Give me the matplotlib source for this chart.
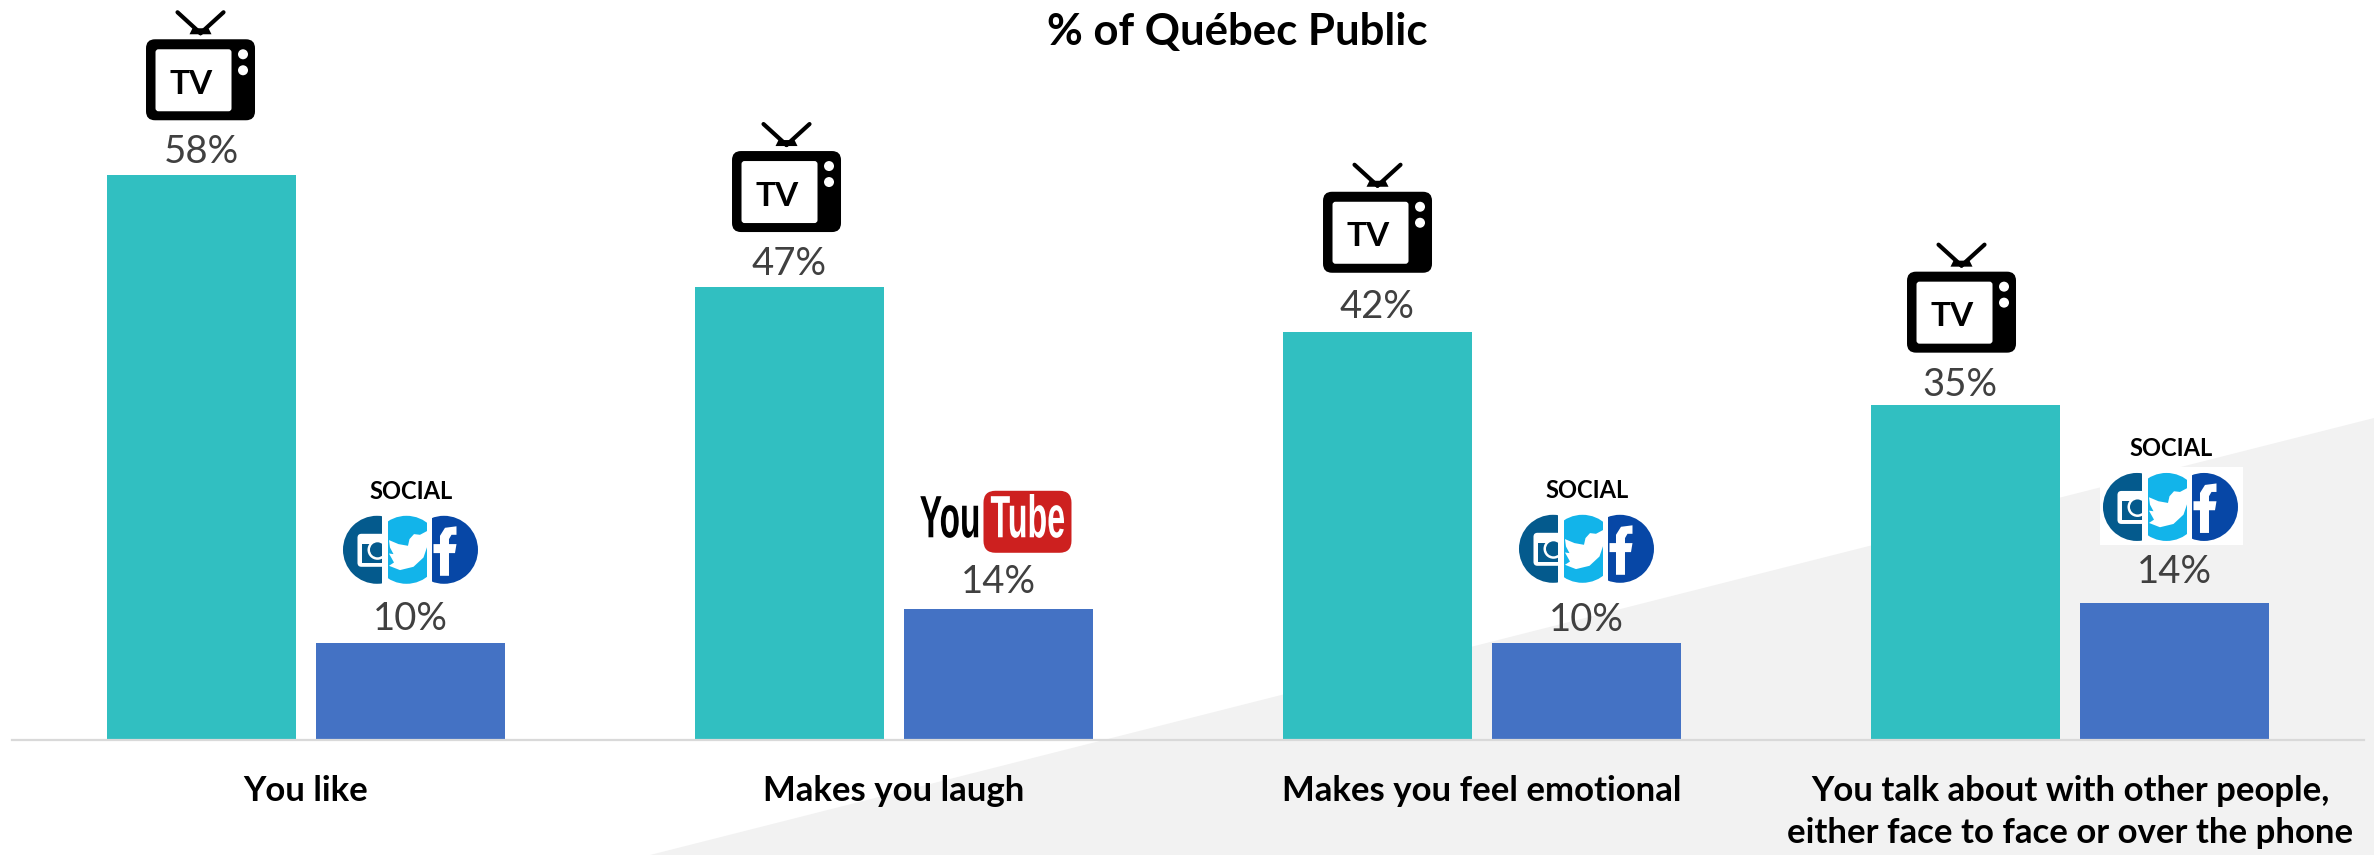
import matplotlib
matplotlib.use("Agg")
import matplotlib.pyplot as plt
import matplotlib.patheffects as pe
from matplotlib.patches import Circle, Polygon, Rectangle, FancyBboxPatch
from matplotlib.transforms import Affine2D

plt.rcParams['font.family'] = ['Lato', 'DejaVu Sans']

categories = ["You like", "Makes you laugh", "Makes you feel emotional",
              "You talk about with other people,\neither face to face or over the phone"]
tv_values = [58.1, 46.6, 42, 34.5]
other_values = [10, 13.5, 10, 14.1]
tv_labels = ["58%", "47%", "42%", "35%"]
other_labels = ["10%", "14%", "10%", "14%"]
other_icons = ["social", "youtube", "social", "social_box"]

# how far above the bar top things sit, in pixels
tv_icon_up = [136, 136, 140, 133]
tv_icon_dx = [-1, -3, 0, -4]
tv_label_up = [23, 23, 25, 20]
tv_label_dx = [0, 0, -1, -6]
other_icon_up = [93, 87, 94, 96]
other_label_up = [24, 27, 23, 31]

TEAL = "#31bfc1"
BLUE = "#4472c4"
W, H = 2374, 855
BASE = 740


class Squeeze(pe.AbstractPathEffect):
    # narrows a text around x=cx (pixels), for the tall thin logo lettering
    def __init__(self, cx, sx):
        super().__init__()
        self.cx = cx
        self.sx = sx

    def draw_path(self, renderer, gc, tpath, affine, rgbFace=None):
        squeeze = Affine2D().translate(-self.cx, 0).scale(self.sx, 1).translate(self.cx, 0)
        renderer.draw_path(gc, tpath, affine + squeeze, rgbFace)


fig = plt.figure(figsize=(W / 100, H / 100), dpi=100)

# overlay in pixel coordinates for the background wedge and the icons
bg = fig.add_axes([0, 0, 1, 1], zorder=0)
bg.set_xlim(0, W)
bg.set_ylim(H, 0)
bg.axis("off")
bg.add_patch(Polygon([(650, 855), (2374, 418), (2374, 855)], closed=True, color="#f2f2f2", lw=0))

ax = fig.add_axes([12 / W, (H - BASE) / H, 2352 / W, BASE / H], zorder=1)
ax.patch.set_alpha(0)
ax.set_xlim(-0.5, 3.5)
ax.set_ylim(0, BASE / 9.72)
offset = 0.1777
width = 0.323
xs = list(range(len(categories)))
ax.bar([x - offset for x in xs], tv_values, width, color=TEAL)
ax.bar([x + offset for x in xs], other_values, width, color=BLUE)
for s in ["top", "left", "right"]:
    ax.spines[s].set_visible(False)
ax.spines["bottom"].set_color("#d9d9d9")
ax.spines["bottom"].set_linewidth(1.6)
ax.set_yticks([])
ax.set_xticks(xs, categories, fontsize=25, fontweight="bold", color="black", linespacing=1.39)
ax.tick_params(axis="x", length=0, pad=25)

over = fig.add_axes([0, 0, 1, 1], zorder=2)
over.set_xlim(0, W)
over.set_ylim(H, 0)
over.axis("off")


def to_px(x, y):
    px, py = ax.transData.transform((x, y))
    return px, H - py


def draw_tv(cx, top):
    # top is the top of the tv body
    over.add_patch(FancyBboxPatch((cx - 54.5 + 6, top + 6), 97, 69, boxstyle="round,pad=6,rounding_size=9",
                                  fc="black", ec="none"))
    over.add_patch(FancyBboxPatch((cx - 45 + 3, top + 10 + 3), 70, 56, boxstyle="round,pad=3,rounding_size=3",
                                  fc="white", ec="none"))
    over.add_patch(Circle((cx + 42.5, top + 15), 5, fc="white", ec="none"))
    over.add_patch(Circle((cx + 42.5, top + 31), 5, fc="white", ec="none"))
    over.plot([cx, cx - 23], [top - 6, top - 27], color="black", lw=3, solid_capstyle="round")
    over.plot([cx, cx + 23], [top - 6, top - 27], color="black", lw=3, solid_capstyle="round")
    over.add_patch(Polygon([(cx - 11, top - 5), (cx + 11, top - 5), (cx + 8, top - 11), (cx - 8, top - 11)],
                           closed=True, fc="black", ec="none"))
    over.text(cx - 9, top + 45, "TV", fontsize=24, fontweight="bold", color="black", ha="center", va="center")


def draw_social(cx, cy):
    pieces = [(-33.5, -72, -28, "#045a8d"), (-4, -22, 17, "#12b4ea"), (33.5, 22, 72, "#0747a6")]
    for dx, x0, x1, col in pieces:
        c = Circle((cx + dx, cy), 34, fc=col, ec="none")
        over.add_patch(c)
        c.set_clip_path(Rectangle((cx + x0, cy - 40), x1 - x0, 80, transform=over.transData))
    # instagram camera
    over.add_patch(FancyBboxPatch((cx - 50, cy - 13), 22, 27, boxstyle="round,pad=3,rounding_size=4",
                                  fc="white", ec="none"))
    over.add_patch(Rectangle((cx - 48, cy - 6), 20, 19, fc="#045a8d", ec="none"))
    over.add_patch(Circle((cx - 33, cy), 10, fc="white", ec="none"))
    over.add_patch(Circle((cx - 33, cy), 7.5, fc="#045a8d", ec="none"))
    over.add_patch(Rectangle((cx - 28, cy - 20), 4, 40, fc="white", ec="none"))
    # twitter bird
    bird = [(17, -19), (9.5, -15), (3.5, -15.7), (-1, -10.7), (-2.5, -4), (-12, -5.7), (-21.5, -9.7),
            (-20.5, -2.3), (-17, 4.3), (-21.5, 3.7), (-16.5, 12.7), (-21.5, 16), (-10.5, 20.3),
            (3, 17), (13, 7.7), (17, -4)]
    over.add_patch(Polygon([(cx + a, cy + b) for a, b in bird], closed=True, fc="white", ec="none"))
    # facebook f
    f_shape = [(29.5, 26), (29.5, 3.3), (23, 3.3), (23, -5.7), (29.5, -5.7), (29.5, -14), (34.5, -22),
               (46, -23.5), (46, -15), (41, -15), (38.5, -10.7), (38.5, -5.7), (46, -5.7), (44.5, 3.3),
               (38.5, 3.3), (38.5, 26)]
    over.add_patch(Polygon([(cx + a, cy + b) for a, b in f_shape], closed=True, fc="white", ec="none"))


def draw_youtube(cx, cy):
    over.add_patch(FancyBboxPatch((cx - 15 + 12, cy - 31 + 12), 64, 38, boxstyle="round,pad=12,rounding_size=12",
                                  fc="#cd201f", ec="none"))
    over.text(cx - 18, cy, "You", fontsize=43, fontweight="bold", color="black", ha="right", va="center",
              family="Liberation Sans", path_effects=[Squeeze(cx - 18, 0.56)])
    over.text(cx - 8, cy, "Tube", fontsize=43, fontweight="bold", color="white", ha="left", va="center",
              family="Liberation Sans", path_effects=[Squeeze(cx - 8, 0.54)])


for i, x in enumerate(xs):
    # tv side
    cx, top = to_px(x - offset, tv_values[i])
    draw_tv(cx + tv_icon_dx[i], top - tv_icon_up[i])
    over.text(cx + tv_label_dx[i], top - tv_label_up[i], tv_labels[i], fontsize=27.5, color="#404040",
              ha="center", va="center")

    # second bar
    cx, top = to_px(x + offset, other_values[i])
    over.text(cx, top - other_label_up[i], other_labels[i], fontsize=27.5, color="#404040", ha="center", va="center")
    icon = other_icons[i]
    if icon == "youtube":
        draw_youtube(cx, top - other_icon_up[i])
    else:
        cy = top - other_icon_up[i]
        if icon == "social_box":
            over.add_patch(Rectangle((cx - 74, cy - 40), 143, 78, fc="white", ec="none"))
            cx -= 4
        draw_social(cx, cy)
        over.text(cx + 1, cy - 58, "SOCIAL", fontsize=17, fontweight="bold", color="black", ha="center", va="center")

over.text(1237, 32, "% of Québec Public", fontsize=31.5, fontweight="bold", color="black", ha="center", va="center")

fig.savefig("out.png", dpi=100)
